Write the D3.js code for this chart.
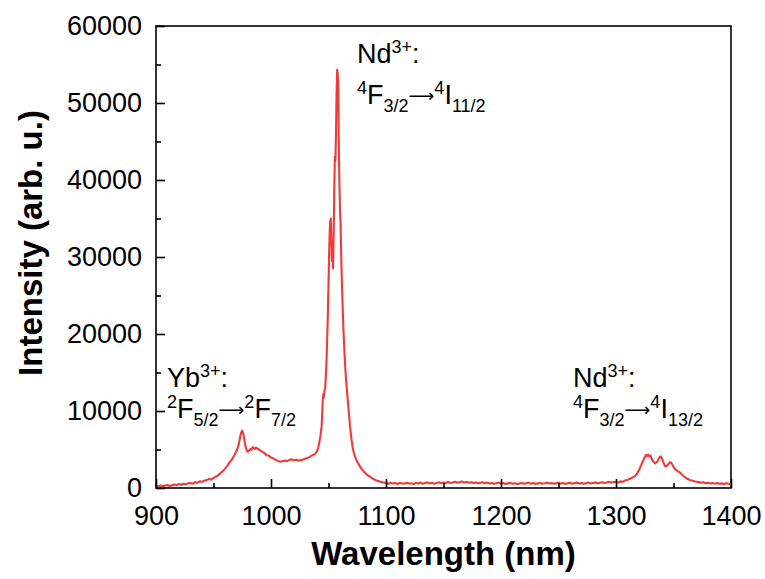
<!DOCTYPE html>
<html>
<head>
<meta charset="utf-8">
<script src="https://cdn.jsdelivr.net/npm/d3@7"></script>
<style>
  body { margin: 0; background: #fff; }
  svg { font-family: "Liberation Sans", Arial, sans-serif; }
</style>
</head>
<body>
<svg id="chart" width="765" height="579"></svg>
<script>
// ---- Data ----
const xTicks = [900, 1000, 1100, 1200, 1300, 1400];
const yTicks = [0, 10000, 20000, 30000, 40000, 50000, 60000];

// Yb3+ band and baseline rise (900–1036 nm)
const ybBand = [
  [900,300],[902,180],[904,340],[906,240],[908,310],[910,400],[912,270],[914,360],[916,460],[918,370],
  [920,510],[922,420],[924,560],[926,470],[928,610],[930,660],[932,570],[934,760],[936,690],[938,860],
  [940,800],[942,960],[944,1020],[946,1160],[948,1090],[950,1310],[952,1460],[954,1640],[956,1930],[958,2180],
  [960,2520],[962,2880],[964,3320],[966,3700],[968,4230],[970,4800],[971,5200],[972,5700],[973,6500],[974,7200],
  [975,7450],[976,7000],[977,6100],[978,5300],[979,4850],[980,4700],[981,4900],[982,5050],[983,4950],[984,5300],
  [985,5200],[986,5050],[987,5250],[988,5150],[990,4950],[992,4750],[994,4560],[996,4300],[998,4200],[1000,3950],
  [1002,3850],[1004,3650],[1006,3520],[1008,3400],[1010,3480],[1012,3560],[1014,3480],[1016,3650],[1018,3720],[1020,3600],
  [1022,3680],[1024,3540],[1026,3620],[1028,3700],[1030,3820],[1032,3900],[1034,4080],[1036,4250]
];

// Nd3+ 4F3/2 -> 4I11/2 band (1038–1098 nm)
const ndMainBand = [
  [1038,4400],[1039,4550],[1040,4750],[1041,5200],[1042,5900],[1043,6800],[1044,8000],[1044.5,9500],[1045,11500],[1045.5,12200],
  [1046,11800],[1046.5,12600],[1047,12900],[1047.5,14000],[1048,15500],[1048.5,17500],[1049,20000],[1049.5,23000],[1050,26500],[1050.5,30000],
  [1051,33000],[1051.5,34600],[1052,35000],[1052.5,32500],[1053,29500],[1053.5,31500],[1054,28500],[1054.5,33000],[1055,38500],[1055.5,43000],
  [1056,42500],[1056.5,46000],[1057,51000],[1057.5,54300],[1058,53800],[1058.5,52000],[1059,44000],[1059.5,39500],[1060,36000],[1060.5,34500],
  [1061,30500],[1061.5,27500],[1062,25000],[1063,20500],[1064,17200],[1065,14600],[1066,12800],[1067,11000],[1068,9300],[1069,7600],
  [1070,6300],[1071,5300],[1072,4600],[1073,4100],[1074,3700],[1076,3150],[1078,2650],[1080,2250],[1082,1950],[1084,1650],
  [1086,1500],[1088,1250],[1090,1100],[1092,950],[1094,880],[1096,760],[1098,720]
];

// Flat region (1100–1298 nm)
const baseline = [
  [1100,650],[1102,560],[1104,700],[1106,580],[1108,640],[1110,520],[1112,680],[1114,600],[1116,550],[1118,690],
  [1120,580],[1122,620],[1124,500],[1126,660],[1128,590],[1130,700],[1132,560],[1134,640],[1136,720],[1138,600],
  [1140,680],[1142,560],[1144,650],[1146,740],[1148,620],[1150,700],[1152,640],[1154,780],[1156,660],[1158,720],
  [1160,800],[1162,690],[1164,760],[1166,850],[1168,700],[1170,780],[1172,680],[1174,760],[1176,640],[1178,720],
  [1180,600],[1182,690],[1184,740],[1186,620],[1188,700],[1190,580],[1192,660],[1194,540],[1196,620],[1198,700],
  [1200,560],[1202,640],[1204,520],[1206,600],[1208,680],[1210,560],[1212,620],[1214,500],[1216,600],[1218,660],
  [1220,540],[1222,620],[1224,700],[1226,560],[1228,640],[1230,520],[1232,600],[1234,680],[1236,560],[1238,620],
  [1240,700],[1242,580],[1244,650],[1246,540],[1248,620],[1250,690],[1252,570],[1254,640],[1256,520],[1258,610],
  [1260,680],[1262,560],[1264,640],[1266,700],[1268,580],[1270,660],[1272,540],[1274,620],[1276,700],[1278,590],
  [1280,660],[1282,720],[1284,600],[1286,680],[1288,760],[1290,640],[1292,720],[1294,800],[1296,700],[1298,780]
];

// Nd3+ 4F3/2 -> 4I13/2 band (1300–1400 nm)
const ndSecondBand = [
  [1300,760],[1302,700],[1304,860],[1306,800],[1308,1000],[1310,1050],[1312,1200],[1314,1320],[1316,1500],[1318,1800],
  [1320,2300],[1322,3000],[1324,3700],[1325,4000],[1326,4300],[1327,4150],[1328,4350],[1329,4100],[1330,4200],[1331,3850],
  [1332,3500],[1333,3350],[1334,3200],[1335,3300],[1336,3450],[1337,3750],[1338,4000],[1339,4100],[1340,3800],[1341,3400],
  [1342,3050],[1343,2800],[1344,2850],[1345,3000],[1346,3200],[1347,3350],[1348,3250],[1349,3050],[1350,2750],[1352,2350],
  [1354,2150],[1356,1950],[1358,1650],[1360,1400],[1362,1200],[1364,1050],[1366,980],[1368,880],[1370,820],[1372,760],
  [1374,700],[1376,740],[1378,620],[1380,680],[1382,580],[1384,640],[1386,560],[1388,660],[1390,540],[1392,600],
  [1394,520],[1396,620],[1398,540],[1400,500]
];

const spectrum = [].concat(ybBand, ndMainBand, baseline, ndSecondBand);

// ---- Layout ----
const svg = d3.select("#chart");
const margin = { left: 156, right: 34, top: 26, bottom: 91 };
const W = 765, H = 579;
const innerW = W - margin.left - margin.right;
const innerH = H - margin.top - margin.bottom;

const x = d3.scaleLinear().domain([900, 1400]).range([margin.left, margin.left + innerW]);
const y = d3.scaleLinear().domain([0, 60000]).range([margin.top + innerH, margin.top]);

const g = svg.append("g");

// Frame
g.append("rect")
  .attr("x", margin.left).attr("y", margin.top)
  .attr("width", innerW).attr("height", innerH)
  .attr("fill", "none").attr("stroke", "#000").attr("stroke-width", 1.6);

// Clip for data
svg.append("clipPath").attr("id", "clip")
  .append("rect").attr("x", margin.left).attr("y", margin.top)
  .attr("width", innerW).attr("height", innerH);

// Data line
const line = d3.line().x(d => x(d[0])).y(d => y(d[1]));
g.append("path")
  .datum(spectrum)
  .attr("clip-path", "url(#clip)")
  .attr("fill", "none")
  .attr("stroke", "#f03a3a")
  .attr("stroke-width", 2.1)
  .attr("stroke-linejoin", "round")
  .attr("d", line);

// Axes (ticks inward)
const fmt = d3.format("d");
const xAxis = d3.axisBottom(x).tickValues(xTicks).tickFormat(fmt).tickSizeInner(-9).tickSizeOuter(0).tickPadding(18);
const xMinor = d3.axisBottom(x).tickValues(xTicks.slice(0, -1).map(v => v + 50)).tickFormat("").tickSizeInner(-5).tickSizeOuter(0);
const yAxis = d3.axisLeft(y).tickValues(yTicks).tickFormat(fmt).tickSizeInner(-9).tickSizeOuter(0).tickPadding(14);
const yMinor = d3.axisLeft(y).tickValues(yTicks.slice(0, -1).map(v => v + 5000)).tickFormat("").tickSizeInner(-5).tickSizeOuter(0);

function styleAxis(sel) {
  sel.select(".domain").remove();
  sel.selectAll("line").attr("stroke", "#000").attr("stroke-width", 1.6);
  sel.selectAll("text").attr("fill", "#000").style("font-size", "27px")
    .style("font-family", '"Liberation Sans", Arial, sans-serif');
}

g.append("g").attr("transform", `translate(0,${margin.top + innerH})`).call(xAxis).call(styleAxis);
g.append("g").attr("transform", `translate(0,${margin.top + innerH})`).call(xMinor).call(styleAxis);
g.append("g").attr("transform", `translate(${margin.left},0)`).call(yAxis).call(styleAxis);
g.append("g").attr("transform", `translate(${margin.left},0)`).call(yMinor).call(styleAxis);

// Axis titles
svg.append("text")
  .attr("x", margin.left + innerW / 2).attr("y", 565)
  .attr("text-anchor", "middle")
  .style("font-size", "33px").style("font-weight", "bold")
  .text("Wavelength (nm)");

svg.append("text")
  .attr("transform", `translate(42,${margin.top + innerH / 2 - 14}) rotate(-90)`)
  .attr("text-anchor", "middle")
  .style("font-size", "33px").style("font-weight", "bold")
  .text("Intensity (arb. u.)");

// Annotations: parts [text, type] where type: n normal, sup, sub, arr (arrow)
const FS = 27;
function richText(xp, yp, parts) {
  const t = svg.append("text").attr("x", xp).attr("y", yp).style("font-size", FS + "px");
  const shift = { n: 0, arr: -2, sup: -10, sub: 8 };
  let state = "n";
  parts.forEach(([txt, type]) => {
    const dy = shift[type] - shift[state];
    state = type;
    const ts = t.append("tspan").attr("dy", dy).text(txt);
    if (type === "sup" || type === "sub") {
      ts.style("font-size", Math.round(FS * 0.68) + "px");
    } else if (type === "arr") {
      ts.style("font-family", '"DejaVu Sans", sans-serif').style("font-size", "18px");
    } else {
      ts.style("font-size", FS + "px");
    }
  });
  return t;
}

richText(357, 63, [["Nd", "n"], ["3+", "sup"], [":", "n"]]);
richText(357, 104, [["4", "sup"], ["F", "n"], ["3/2", "sub"], ["⟶", "arr"], ["4", "sup"], ["I", "n"], ["11/2", "sub"]]);

richText(167, 387, [["Yb", "n"], ["3+", "sup"], [":", "n"]]);
richText(167, 418, [["2", "sup"], ["F", "n"], ["5/2", "sub"], ["⟶", "arr"], ["2", "sup"], ["F", "n"], ["7/2", "sub"]]);

richText(573, 387, [["Nd", "n"], ["3+", "sup"], [":", "n"]]);
richText(573, 418, [["4", "sup"], ["F", "n"], ["3/2", "sub"], ["⟶", "arr"], ["4", "sup"], ["I", "n"], ["13/2", "sub"]]);
</script>
</body>
</html>
